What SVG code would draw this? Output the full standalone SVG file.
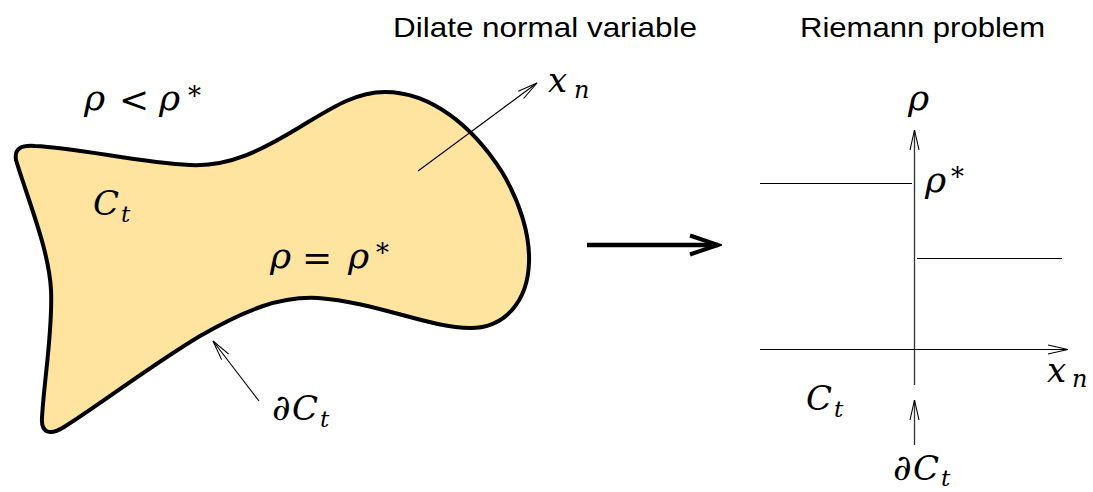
<svg xmlns="http://www.w3.org/2000/svg" width="1093" height="492" viewBox="0 0 1093 492">
<style>
.title{font-family:"Liberation Sans",Arial,sans-serif;font-size:28px;fill:#000}
.m{font-family:"DejaVu Serif","Liberation Serif",serif;font-style:italic;fill:#000}
.r{font-family:"DejaVu Serif","Liberation Serif",serif;fill:#000}
.thin{stroke:#000;stroke-width:1.1;fill:none}
.axis{stroke:#333;stroke-width:1.3;fill:none}
</style>
<defs>
<marker id="open" viewBox="-22 -6 24 12" refX="0" refY="0" markerWidth="24" markerHeight="12" markerUnits="userSpaceOnUse" orient="auto">
<path d="M-20,-4.5 L0,0 L-20,4.5" fill="none" stroke="#000" stroke-width="1.1"/>
</marker>
<marker id="big" viewBox="-32 -13 36 26" refX="0" refY="0" markerWidth="36" markerHeight="26" markerUnits="userSpaceOnUse" orient="auto">
<path d="M-28,-9.5 L0,0 L-28,9.5" fill="none" stroke="#000" stroke-width="4"/>
</marker>
</defs>

<text class="title" x="393" y="37" textLength="304" lengthAdjust="spacingAndGlyphs">Dilate normal variable</text>
<text class="title" x="800" y="37" textLength="245" lengthAdjust="spacingAndGlyphs">Riemann problem</text>

<g id="region">
<path d="M16,160 C14,148 22,145 35,146 C80,148 140,163 190,165 C230,167 262,150 300,127 C330,109 355,92 385,92 C430,92 472,125 502,172 C520,202 530,235 529,262 C528,300 506,328 470,328 C430,328 375,302 318,298 C280,296 245,310 200,336 C150,366 95,408 64,427 C50,436 41,433 42,418 C44,380 53,330 51,290 C49,250 28,200 16,160 Z" fill="#FFE4A0" stroke="#000" stroke-width="4" stroke-linejoin="round"/>
</g>

<g id="labels-left">
<text class="m" font-size="36" x="84" y="110">ρ</text>
<text class="r" font-size="36" x="119" y="112">&lt;</text>
<text class="m" font-size="36" x="159" y="110">ρ</text>
<text class="r" font-size="26" x="188" y="105">*</text>
<text class="m" font-size="34" x="93" y="215">C</text>
<text class="m" font-size="23" x="121" y="222">t</text>
<text class="m" font-size="36" x="270" y="268">ρ</text>
<text class="r" font-size="36" x="302" y="270">=</text>
<text class="m" font-size="36" x="348" y="268">ρ</text>
<text class="r" font-size="26" x="376" y="262">*</text>
<text class="r" font-size="36" x="272" y="420">∂</text>
<text class="m" font-size="34" x="292" y="420">C</text>
<text class="m" font-size="23" x="320" y="427">t</text>
<text class="m" font-size="34" x="548" y="92">x</text>
<text class="m" font-size="24" x="574" y="98">n</text>
</g>

<g id="connectors">
<line class="thin" x1="418" y1="171" x2="537" y2="83" marker-end="url(#open)"/>
<line class="thin" x1="259" y1="401" x2="213" y2="341" marker-end="url(#open)"/>
<line x1="587" y1="245" x2="718" y2="245" stroke="#000" stroke-width="4.5" marker-end="url(#big)"/>
</g>

<g id="riemann">
<line class="axis" x1="914.5" y1="385" x2="914.5" y2="130" marker-end="url(#open)"/>
<line class="thin" x1="760" y1="349.5" x2="1068" y2="349.5" marker-end="url(#open)"/>
<line class="thin" x1="760" y1="183.5" x2="912" y2="183.5"/>
<line class="thin" x1="917" y1="258.5" x2="1062" y2="258.5"/>
<line class="axis" x1="914.5" y1="445" x2="914.5" y2="400" marker-end="url(#open)"/>
<text class="m" font-size="36" x="908" y="110">ρ</text>
<text class="m" font-size="36" x="925" y="192">ρ</text>
<text class="r" font-size="26" x="951" y="186">*</text>
<text class="m" font-size="34" x="1047" y="382">x</text>
<text class="m" font-size="24" x="1072" y="387">n</text>
<text class="m" font-size="34" x="806" y="410">C</text>
<text class="m" font-size="23" x="834" y="417">t</text>
<text class="r" font-size="36" x="893" y="480">∂</text>
<text class="m" font-size="34" x="913" y="480">C</text>
<text class="m" font-size="23" x="941" y="486">t</text>
</g>
</svg>
